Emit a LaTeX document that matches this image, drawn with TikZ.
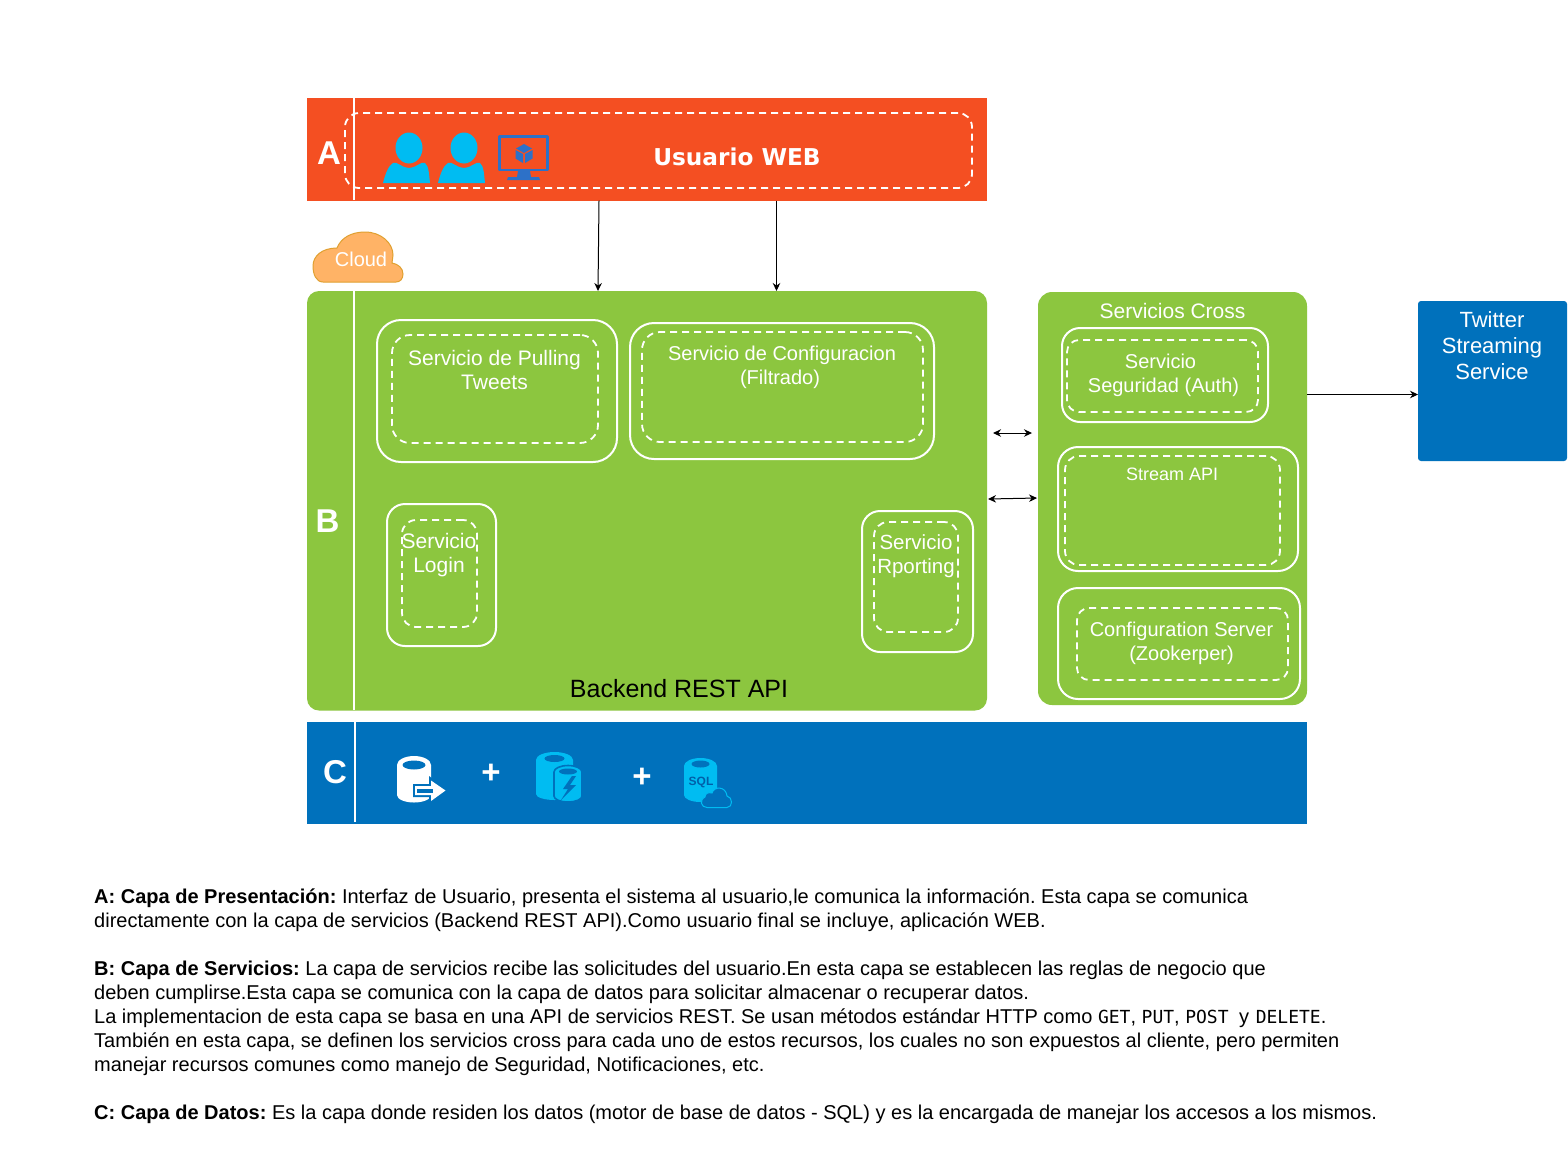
\documentclass[tikz,border=0pt]{standalone}
\usepackage{fontspec}
\setmainfont{Liberation Sans}
\newfontfamily\verd{DejaVu Sans}
\newfontfamily\monof{DejaVu Sans Mono}
\usetikzlibrary{arrows.meta,calc}
\definecolor{orangeA}{HTML}{F44F22}
\definecolor{greenB}{HTML}{8CC63F}
\definecolor{blueC}{HTML}{0071BC}
\definecolor{cyanI}{HTML}{00BCF2}
\definecolor{blueM}{HTML}{2D71C8}
\definecolor{cloudF}{HTML}{FFB366}
\definecolor{cloudS}{HTML}{E0A030}
\definecolor{sqlT}{HTML}{005FA8}
\tikzset{
  x=1pt,y=-1pt,
  band/.style={inner sep=0pt,outer sep=0pt},
  solidbox/.style={draw=white,line width=2pt,inner sep=0pt,outer sep=0pt},
  dashbox/.style={draw=white,line width=1.8pt,dash pattern=on 7pt off 5pt,inner sep=0pt,outer sep=0pt},
  wt/.style={text=white,inner sep=0pt,align=center},
  lab/.style={wt,font=\fontsize{33}{36}\selectfont\bfseries},
  svc/.style={wt,font=\fontsize{21}{24}\selectfont},
  svcs/.style={wt,font=\fontsize{20}{24}\selectfont},
  tipline/.style={draw=black,line width=1pt,-{Stealth[length=8pt,width=7.5pt]}},
  tiptwo/.style={draw=black,line width=1pt,{Stealth[length=8pt,width=7.5pt]}-{Stealth[length=8pt,width=7.5pt]}},
  divider/.style={draw=white,line width=2pt},
}
\newcommand{\bx}[6]{\node[#6,anchor=north west,minimum width={(#4-#2)*1pt},minimum height={(#5-#3)*1pt}] (#1) at (#2,#3) {};}
\newcommand{\usericon}[1]{%
  \begin{scope}[shift={(#1,0)}]
    \fill[cyanI] (409,148) ellipse (13.5 and 15.5);
    \fill[cyanI] (383,183) .. controls (385,175) and (388,166) .. (393,163)
      .. controls (397,161) and (400,167) .. (409,168)
      .. controls (418,167) and (421,161) .. (425,163)
      .. controls (429,166) and (429,175) .. (430,183) -- cycle;
  \end{scope}}
\begin{document}
\frenchspacing
\begin{tikzpicture}
\useasboundingbox (0,0) rectangle (1568,1171);
\fill[white] (0,0) rectangle (1568,1171);

% Layer A
\bx{layerA}{307}{98}{987}{200.5}{band,fill=orangeA}
\draw[divider] (354,98) -- (354,200);
\bx{dashA}{345}{113}{972}{188}{dashbox,rounded corners=14pt}
\node[lab] (labA) at (329,153) {A};
\node[wt,font=\verd\fontsize{23.2}{28}\selectfont\bfseries] (usuario) at (737,157) {Usuario WEB};
\usericon{0}
\usericon{55}
% monitor
\draw[blueM,line width=2.6pt,line join=round] (499.5,136.5) rectangle (547.5,170);
\fill[blueM] (518,171) -- (530,171) -- (531,177) -- (517,177) -- cycle;
\fill[blueM] (508,177) -- (539,177) -- (540,180) -- (507,180) -- cycle;
\fill[blueM] (524,144) -- (532,148.5) -- (524,153) -- (516,148.5) -- cycle;
\fill[blueM] (515.5,150) -- (523,154) -- (523,163) -- (515.5,158.5) -- cycle;
\fill[blueM] (532.5,150) -- (525,154) -- (525,163) -- (532.5,158.5) -- cycle;

% Cloud
\draw[fill=cloudF,draw=cloudS,line width=1pt] (323,282)
  .. controls (316,282) and (313,274) .. (313,266)
  .. controls (313,256) and (322,248) .. (337,248)
  .. controls (341,238) and (351,232) .. (365,232)
  .. controls (381,232) and (393,243) .. (393,255)
  .. controls (393,258) and (392,260) .. (392,263)
  .. controls (398,264) and (403,268) .. (403,274)
  .. controls (403,279) and (400,282) .. (396,282) -- cycle;
\node[wt,font=\fontsize{20}{24}\selectfont] (cloudT) at (361,259) {Cloud};

% Layer B
\bx{layerB}{307}{291}{987}{710.5}{band,fill=greenB,rounded corners=12pt}
\draw[divider] (354,291) -- (354,710);
\node[lab] (labB) at (327.5,521) {B};
\bx{pullS}{377}{320}{617}{462}{solidbox,rounded corners=24pt}
\bx{pullD}{392}{335}{598}{443}{dashbox,rounded corners=18pt}
\node[svc] (pullT) at (494.5,369.5) {Servicio de Pulling\\Tweets};
\bx{confS}{630}{323}{934}{459}{solidbox,rounded corners=24pt}
\bx{confD}{642}{332}{923}{442}{dashbox,rounded corners=18pt}
\node[svcs] (confT) at (782,367) {Servicio de Configuracion\\(Filtrado)\hspace*{4pt}};
\bx{logS}{387}{504}{496}{646}{solidbox,rounded corners=18pt}
\bx{logD}{402}{520}{477}{627}{dashbox,rounded corners=14pt}
\node[svc] (logT) at (439,555.5) {Servicio\\Login};
\bx{repS}{862}{511}{973}{652}{solidbox,rounded corners=18pt}
\bx{repD}{874}{522}{958}{632}{dashbox,rounded corners=14pt}
\node[wt,font=\fontsize{20.5}{24}\selectfont] (repT) at (916,556) {Servicio\\Rporting};
\node[inner sep=0pt,text=black,font=\fontsize{25}{28}\selectfont] (backT) at (679,689) {Backend REST API};

% Cross services
\bx{cross}{1038}{292}{1307}{705}{band,fill=greenB,rounded corners=14pt}
\node[svc] (crossT) at (1172.5,311) {Servicios Cross};
\bx{authS}{1062}{328}{1268}{422}{solidbox,rounded corners=18pt}
\bx{authD}{1067}{340}{1258}{412}{dashbox,rounded corners=12pt}
\node[svcs] (authT) at (1163.5,375) {Servicio\hspace*{6pt}\\Seguridad (Auth)};
\bx{strS}{1058}{447}{1298}{571}{solidbox,rounded corners=20pt}
\bx{strD}{1065}{456}{1280}{565}{dashbox,rounded corners=14pt}
\node[wt,font=\fontsize{18}{22}\selectfont] (strT) at (1172,474) {Stream API};
\bx{cfgS}{1058}{588}{1300}{699}{solidbox,rounded corners=20pt}
\bx{cfgD}{1077}{608}{1288}{680}{dashbox,rounded corners=12pt}
\node[svcs] (cfgT) at (1181.5,643) {Configuration Server\\(Zookerper)};

% Twitter
\bx{twitter}{1418}{301}{1567}{461}{band,fill=blueC,rounded corners=3pt}
\node[wt,font=\fontsize{22}{26}\selectfont] (twT) at (1492,346) {Twitter\\Streaming\\Service};

% Layer C
\bx{layerC}{307}{722}{1307}{823.5}{band,fill=blueC}
\draw[divider] (355,722) -- (355,822);
\node[lab] (labC) at (335,772) {C};
\node[wt,font=\fontsize{33}{36}\selectfont\bfseries] (plusA) at (491,774) {+};
\node[wt,font=\fontsize{33}{36}\selectfont\bfseries] (plusB) at (642,778) {+};

% DB icon white
\fill[white] (397,765) arc[start angle=180,end angle=360,x radius=17,y radius=9] -- (431,795)
  arc[start angle=0,end angle=180,x radius=17,y radius=7.5] -- cycle;
\fill[blueC] (414,765) ellipse (11.5 and 4.5);
\fill[blueC] (413,784) -- (429,784) -- (429,776) -- (449,790.5) -- (429,805) -- (429,797) -- (413,797) -- cycle;
\fill[white] (415,786) -- (431,786) -- (431,780.5) -- (445.5,790.5) -- (431,801) -- (431,795) -- (415,795) -- cycle;
\fill[blueC] (417,788.5) rectangle (433,792.5);

% fast storage icon
\fill[cyanI] (536,760) arc[start angle=180,end angle=360,x radius=18.5,y radius=8] -- (573,794)
  arc[start angle=0,end angle=180,x radius=18.5,y radius=6] -- cycle;
\fill[blueC] (554.5,758.5) ellipse (10 and 3.5);
\draw[blueC,line width=1.6pt,fill=cyanI] (554,772) arc[start angle=180,end angle=360,x radius=14,y radius=6.5] -- (582,796)
  arc[start angle=0,end angle=180,x radius=14,y radius=6] -- cycle;
\fill[blueC] (568,771.5) ellipse (9 and 3);
\fill[blueC] (572,776) -- (563,789) -- (568,789) -- (561,800) -- (576,785) -- (570,785) -- (576,776) -- cycle;

% SQL icon
\fill[cyanI] (684,766) arc[start angle=180,end angle=360,x radius=16.5,y radius=8] -- (717,795)
  arc[start angle=0,end angle=180,x radius=16.5,y radius=7] -- cycle;
\fill[blueC] (700.5,764) ellipse (9 and 3.5);
\node[inner sep=0pt,text=sqlT,font=\fontsize{12}{14}\selectfont\bfseries] (sqlIcon) at (701,782) {SQL};
\draw[cyanI,line width=1pt,fill=blueC] (707,807.5)
  .. controls (701,807.5) and (699,800) .. (705,797)
  .. controls (705,793) and (709,792) .. (712,793)
  .. controls (714,786) and (726,786) .. (727,796)
  .. controls (733,797) and (733,807.5) .. (727,807.5) -- cycle;

% Connectors
\coordinate (a1) at ($(layerA.south west)+(292,0)$);
\coordinate (b1) at ($(layerB.north west)+(291,0)$);
\coordinate (a2) at ($(layerA.south west)+(469.5,0)$);
\coordinate (b2) at ($(layerB.north west)+(469.5,0)$);
\draw[tipline] (a1) -- (b1);
\draw[tipline] (a2) -- (b2);
\coordinate (g1) at (993,433);
\coordinate (g2) at (1032,433);
\draw[tiptwo] (g1) -- (g2);
\coordinate (h1) at (988,499);
\coordinate (h2) at (1037,498);
\draw[tiptwo] (h1) -- (h2);
\coordinate (crossR) at ($(cross.north east)+(0,102.5)$);
\coordinate (twL) at ($(twitter.north west)+(0,93.5)$);
\draw[tipline] (crossR) -- (twL);

% Description
\node[anchor=north west,inner sep=0pt,align=left,text=black,font=\fontsize{20}{24}\selectfont] (desc) at (94,888.5) {%
\textbf{A: Capa de Presentación:} Interfaz de Usuario, presenta el sistema al usuario,le comunica la información. Esta capa se comunica\\
directamente con la capa de servicios (Backend REST API).Como usuario final se incluye, aplicación WEB.\\
\mbox{}\\
\textbf{B: Capa de Servicios:} La capa de servicios recibe las solicitudes del usuario.En esta capa se establecen las reglas de negocio que\\
deben cumplirse.Esta capa se comunica con la capa de datos para solicitar almacenar o recuperar datos.\\
La implementacion de esta capa se basa en una API de servicios REST. Se usan métodos estándar HTTP como {\monof\fontsize{18}{24}\selectfont GET}, {\monof\fontsize{18}{24}\selectfont PUT}, {\monof\fontsize{18}{24}\selectfont POST}\hspace{5pt} y\hspace{1pt} {\monof\fontsize{18}{24}\selectfont DELETE}.\\
También en esta capa, se definen los servicios cross para cada uno de estos recursos, los cuales no son expuestos al cliente, pero permiten\\
manejar recursos comunes como manejo de Seguridad, Notificaciones, etc.\\
\mbox{}\\
\textbf{C: Capa de Datos:} Es la capa donde residen los datos (motor de base de datos - SQL) y es la encargada de manejar los accesos a los mismos.};
\end{tikzpicture}
\end{document}
